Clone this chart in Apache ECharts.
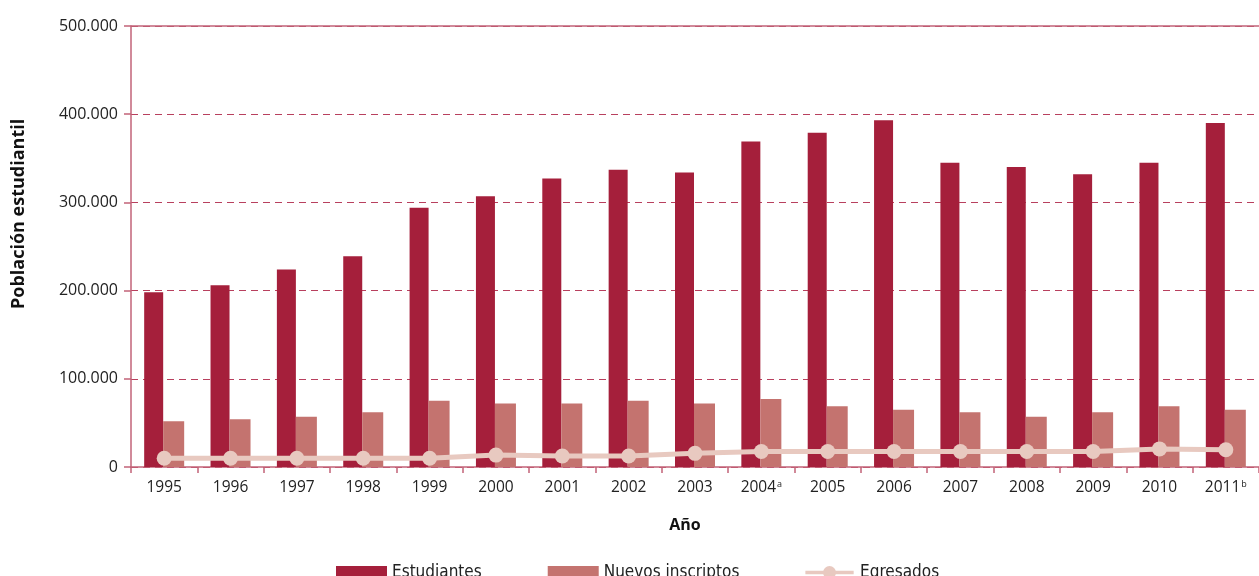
<!DOCTYPE html>
<html><head><meta charset="utf-8">
<script src="https://cdn.jsdelivr.net/npm/echarts@6/dist/echarts.min.js"></script>
<style>html,body{margin:0;padding:0;background:#fff}#c{width:1259px;height:576px}</style>
</head><body><div id="c"></div>
<script>
var years = ['1995','1996','1997','1998','1999','2000','2001','2002','2003','2004','2005','2006','2007','2008','2009','2010','2011'];
var notes = {'2004':'a','2011':'b'};
var estudiantes = [198000,206000,224000,239000,294000,307000,327000,337000,334000,369000,379000,393000,345000,340000,332000,345000,390000];
var nuevos = [52000,54000,57000,62000,75000,72000,72000,75000,72000,77000,69000,65000,62000,57000,62000,69000,65000];
var egresados = [10000,10000,10000,10000,10000,13500,12500,12500,15500,17500,17500,17500,17500,17500,17500,20500,19500];

var axisColor = '#c26378';
var chart = echarts.init(document.getElementById('c'));
chart.setOption({
  animation:false,
  grid:{left:131,right:0,top:26,bottom:109,containLabel:false},
  legend:{
    left:331, top:559, itemWidth:51, itemHeight:13, itemGap:66,
    textStyle:{fontFamily:'"Liberation Sans Narrow","DejaVu Sans Condensed","Open Sans",sans-serif',fontSize:17,color:'#222',padding:[4,0,0,0]},
    data:[{name:'Estudiantes',icon:'rect'},{name:'Nuevos inscriptos',icon:'rect'},
      {name:'Egresados',icon:'path://M0,5 L52,5 L52,9 L0,9 Z M26,0 A7,7 0 1 1 26,14 A7,7 0 1 1 26,0 Z'}]
  },
  xAxis:{
    type:'category', data:years,
    name:'Año', nameLocation:'middle', nameGap:50,
    nameTextStyle:{fontFamily:'"Open Sans",sans-serif',fontWeight:'bold',fontSize:16,color:'#111',padding:[0,20,0,0]},
    axisLine:{lineStyle:{color:axisColor,width:1.5}},
    axisTick:{show:true,length:6,lineStyle:{color:axisColor,width:1.5}},
    axisLabel:{
      interval:0, margin:13, color:'#222', fontSize:15.5, fontFamily:'"Open Sans",sans-serif',
      formatter:function(v){return notes[v]? v+'{s|'+notes[v]+'}' : v;},
      rich:{s:{fontSize:9,verticalAlign:'top',lineHeight:12,padding:[0,0,0,1],color:'#222'}}
    }
  },
  yAxis:{
    type:'value', min:0, max:500000, interval:100000,
    axisLine:{show:true,lineStyle:{color:axisColor,width:1.5}},
    axisTick:{show:true,length:7,lineStyle:{color:axisColor,width:1.5}},
    axisLabel:{margin:13,color:'#222',fontSize:16,fontFamily:'"Open Sans",sans-serif',
      formatter:function(v){return v===0?'0':(v/1000)+'.000';}},
    splitLine:{show:true,lineStyle:{color:'#b8405e',type:[7,5],width:1.2}}
  },
  graphic:[{
    type:'text', rotation:Math.PI/2, position:[10,309],
    style:{text:'Población estudiantil',font:'bold 18px "Open Sans",sans-serif',fill:'#111'}
  }],
  series:[
    {name:'Estudiantes',type:'bar',data:estudiantes,barWidth:19,barGap:'0%',itemStyle:{color:'#a51f3b'},
     markLine:{silent:true,symbol:'none',label:{show:false},lineStyle:{color:axisColor,type:'solid',width:1.5},data:[{yAxis:500000}]}},
    {name:'Nuevos inscriptos',type:'bar',data:nuevos,barWidth:21,itemStyle:{color:'#c4736f'}},
    {name:'Egresados',type:'line',data:egresados,symbol:'circle',symbolSize:15,
     lineStyle:{color:'#e8c9c0',width:5},itemStyle:{color:'#e8c9c0'},z:5}
  ]
});
</script></body></html>
